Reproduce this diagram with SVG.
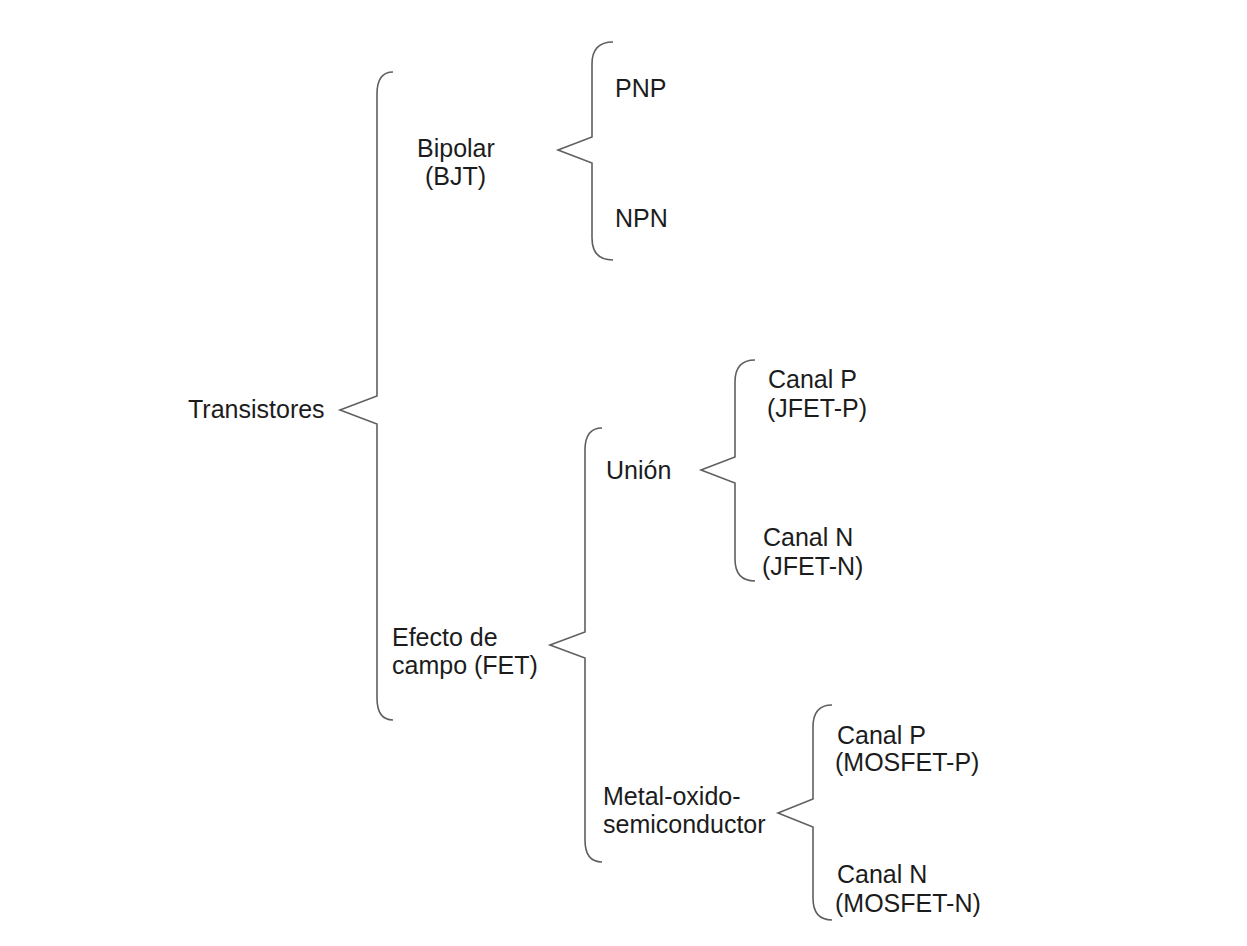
<svg xmlns="http://www.w3.org/2000/svg" width="1247" height="946" viewBox="0 0 1247 946">
<style>
.brace{fill:none;stroke:#5f5f5f;stroke-width:1.6;stroke-linejoin:miter}
.t{font-family:"Liberation Sans",Arial,sans-serif;font-size:25px;fill:#1c1c1c}
</style>
<rect width="1247" height="946" fill="#ffffff"/>
<g id="connectors">
<path class="brace" d="M393,72 Q377,72 377,94 L377,396 L340,410 L377,424 L377,698 Q377,720 393,720"/>
<path class="brace" d="M613,42 Q592,42 592,64 L592,137 L558,150 L592,163 L592,238 Q592,260 613,260"/>
<path class="brace" d="M602,428 Q585,428 585,450 L585,632 L550,645 L585,658 L585,840 Q585,862 602,862"/>
<path class="brace" d="M755,360 Q735,360 735,382 L735,457 L701,470 L735,483 L735,559 Q735,581 755,581"/>
<path class="brace" d="M832,705 Q813,705 813,727 L813,799 L778,813 L813,827 L813,898 Q813,920 832,920"/>
</g>
<g id="n-transistores"><text class="t" x="188" y="418">Transistores</text></g>
<g id="n-bipolar"><text class="t" x="417" y="157">Bipolar</text><text class="t" x="425" y="185">(BJT)</text></g>
<g id="n-pnp"><text class="t" x="615" y="97">PNP</text></g>
<g id="n-npn"><text class="t" x="615" y="227">NPN</text></g>
<g id="n-fet"><text class="t" x="392" y="646">Efecto de</text><text class="t" x="392" y="674">campo (FET)</text></g>
<g id="n-union"><text class="t" x="606" y="479">Unión</text></g>
<g id="n-mos"><text class="t" x="603" y="805">Metal-oxido-</text><text class="t" x="603" y="833">semiconductor</text></g>
<g id="n-jfet-p"><text class="t" x="768" y="388">Canal P</text><text class="t" x="767" y="417">(JFET-P)</text></g>
<g id="n-jfet-n"><text class="t" x="763" y="546">Canal N</text><text class="t" x="762" y="575">(JFET-N)</text></g>
<g id="n-mosfet-p"><text class="t" x="837" y="744">Canal P</text><text class="t" x="835" y="771">(MOSFET-P)</text></g>
<g id="n-mosfet-n"><text class="t" x="837" y="883">Canal N</text><text class="t" x="835" y="912">(MOSFET-N)</text></g>
</svg>
